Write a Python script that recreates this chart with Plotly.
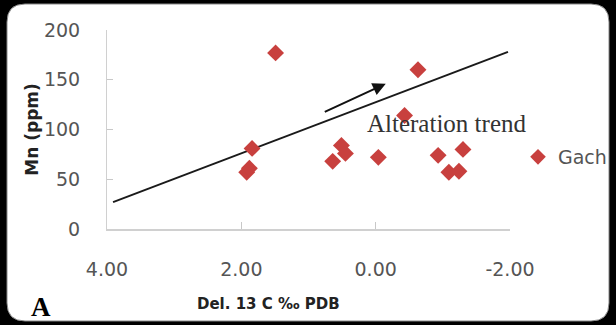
import plotly.graph_objects as go

# Data
del13c = [1.49, 1.84, 1.92, 1.88, -0.63, -0.43, 0.51, 0.45, 0.64, -0.04, -0.93, -1.30, -1.09, -1.24]
mn_ppm = [177, 81, 57, 61, 160, 114, 84, 76, 68, 72, 74, 80, 57, 58]
trend_x = [3.91, -1.97]
trend_y = [27, 178]
arrow_start = (0.78, 117)
arrow_end = (-0.15, 146)
x_ticks = [4, 2, 0, -2]
x_tick_labels = ["4.00", "2.00", "0.00", "-2.00"]
y_ticks = [0, 50, 100, 150, 200]

W, H = 616, 325
L, R, T, B = 107, 106, 30, 96

fig = go.Figure()
fig.add_trace(go.Scatter(
    x=trend_x, y=trend_y, mode="lines",
    line=dict(color="#1a1a1a", width=2), showlegend=False, hoverinfo="skip"))
fig.add_trace(go.Scatter(
    x=del13c, y=mn_ppm, mode="markers", name="Gach",
    marker=dict(symbol="diamond", size=13, color="#C8403E")))

fig.add_annotation(
    x=arrow_end[0], y=arrow_end[1], ax=arrow_start[0], ay=arrow_start[1],
    xref="x", yref="y", axref="x", ayref="y", text="",
    showarrow=True, arrowhead=2, arrowsize=1.3, arrowwidth=2, arrowcolor="#111")
fig.add_annotation(
    x=-1.05, y=106.5, xref="x", yref="y", text="Alteration trend", showarrow=False,
    xanchor="center", yanchor="middle",
    font=dict(family="Liberation Serif", size=25, color="#333"))

def px(x):
    return (x - L) / (W - L - R)
def py(y):
    return (H - B - y) / (H - T - B)

fig.add_annotation(
    x=px(41), y=py(307), xref="paper", yref="paper",
    xanchor="center", yanchor="middle",
    text="<b>A</b>", showarrow=False,
    font=dict(family="Liberation Serif", size=27, color="#000"))

# x-axis title (placed off-centre as in the reference)
fig.add_annotation(
    x=px(268), y=py(304), xref="paper", yref="paper",
    xanchor="center", yanchor="middle",
    text="<b>Del. 13 C ‰ PDB</b>", showarrow=False,
    font=dict(family="DejaVu Sans", size=15, color="#222"))

# rounded white card on black background
x0, x1, y0, y1, r = 7, 609, 4, 321, 18
path = (f"M {px(x0 + r)},{py(y0)} L {px(x1 - r)},{py(y0)} "
        f"Q {px(x1)},{py(y0)} {px(x1)},{py(y0 + r)} L {px(x1)},{py(y1 - r)} "
        f"Q {px(x1)},{py(y1)} {px(x1 - r)},{py(y1)} L {px(x0 + r)},{py(y1)} "
        f"Q {px(x0)},{py(y1)} {px(x0)},{py(y1 - r)} L {px(x0)},{py(y0 + r)} "
        f"Q {px(x0)},{py(y0)} {px(x0 + r)},{py(y0)} Z")
fig.add_shape(type="path", path=path, xref="paper", yref="paper",
              fillcolor="white", line=dict(color="#888", width=1), layer="below")

tickfont = dict(family="DejaVu Sans", size=19, color="#555")
fig.update_layout(
    width=W, height=H, autosize=False,
    margin=dict(l=L, r=R, t=T, b=B, pad=0, autoexpand=False),
    paper_bgcolor="#000", plot_bgcolor="rgba(0,0,0,0)",
    showlegend=True,
    legend=dict(x=px(518), y=py(157), xanchor="left", yanchor="middle",
                bgcolor="rgba(0,0,0,0)", font=dict(family="DejaVu Sans", size=19, color="#555"),
                itemwidth=30, itemsizing="constant"),
    xaxis=dict(range=[4, -2], tickvals=x_ticks, ticktext=x_tick_labels,
               showgrid=False, zeroline=False, showline=True, linecolor="#d0d0d0", linewidth=2,
               ticks="inside", ticklen=7, tickcolor="#c8c8c8", tickwidth=1,
               tickfont=tickfont, ticklabelstandoff=22),
    yaxis=dict(range=[0, 200], tickvals=y_ticks,
               showgrid=False, zeroline=False, showline=True, linecolor="#d0d0d0", linewidth=1,
               ticks="inside", ticklen=6, tickcolor="#c8c8c8", tickwidth=1,
               tickfont=tickfont, ticklabelstandoff=22,
               title=dict(text="<b>Mn (ppm)</b>", standoff=0,
                          font=dict(family="DejaVu Sans", size=17, color="#222"))),
)

fig.write_html("out.html")
